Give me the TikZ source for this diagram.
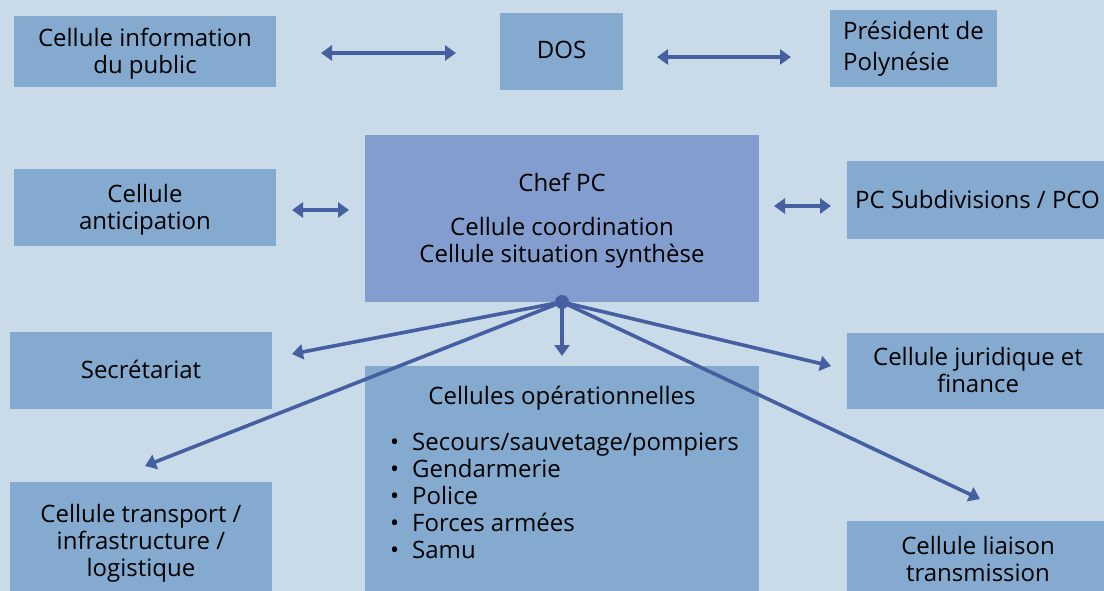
\documentclass[tikz,border=0pt]{standalone}
\usepackage{fontspec}
\setmainfont{Open Sans}
\usetikzlibrary{arrows.meta}
\definecolor{bgc}{HTML}{C9DBE9}
\definecolor{boxc}{HTML}{85AAD0}
\definecolor{chefc}{HTML}{839ECE}
\definecolor{arrc}{HTML}{465FA0}
\tikzset{
  box/.style={fill=boxc, draw=none, inner sep=0pt},
  lbl/.style={font=\fontsize{24}{27}\selectfont, text=black, align=center, inner sep=0pt},
  conn/.style={draw=arrc, line width=3.6pt, -{Triangle[length=11pt,width=15pt]}},
  dconn/.style={draw=arrc, line width=3.6pt, {Triangle[length=11pt,width=15pt]}-{Triangle[length=11pt,width=15pt]}},
}
\begin{document}
\begin{tikzpicture}[x=1pt,y=-1pt]
\fill[bgc] (0,0) rectangle (1104,591);
\useasboundingbox (0,0) rectangle (1104,591);
% boxes
\node[box, minimum width=262pt, minimum height=71pt] (info) at (145,51.5) {};
\node[box, minimum width=123pt, minimum height=77pt] (dos) at (561.5,51.5) {};
\node[box, minimum width=167pt, minimum height=77pt] (pres) at (913.5,48.5) {};
\node[box, fill=chefc, minimum width=394pt, minimum height=167pt] (chef) at (562,218.5) {};
\node[box, minimum width=262pt, minimum height=77pt] (antic) at (145,207.5) {};
\node[box, minimum width=263pt, minimum height=78pt] (pcsub) at (978.5,200) {};
\node[box, minimum width=262pt, minimum height=77pt] (secr) at (141,370.5) {};
\node[box, minimum width=394pt, minimum height=234pt] (ops) at (562,483) {};
\node[box, minimum width=263pt, minimum height=76pt] (jur) at (978.5,371) {};
\node[box, minimum width=262pt, minimum height=118pt] (trans) at (141,541) {};
\node[box, minimum width=263pt, minimum height=79pt] (liais) at (978.5,560.5) {};
% texts
\node[lbl] (tinfo) at (145,53.5) {Cellule information\\du public};
\node[lbl] (tdos) at (561.5,50) {DOS};
\node[lbl, align=left, anchor=west, font=\fontsize{24}{31}\selectfont] (tpres) at (843,49) {Président de\\Polynésie};
\node[lbl] (tchef1) at (562,182.5) {Chef PC};
\node[lbl] (tchef2) at (562,243) {Cellule coordination\\Cellule situation synthèse};
\node[lbl] (tantic) at (145,209.5) {Cellule\\anticipation};
\node[lbl, anchor=west] (tpcsub) at (855,199) {PC Subdivisions / PCO};
\node[lbl] (tsecr) at (141,369.5) {Secrétariat};
\node[lbl] (tops) at (562,398) {Cellules opérationnelles};
\node[lbl, align=left, anchor=north west] (tlist) at (390,433) {%
\textbullet\hspace{13pt}Secours/sauvetage/pompiers\\
\textbullet\hspace{13pt}Gendarmerie\\
\textbullet\hspace{13pt}Police\\
\textbullet\hspace{13pt}Forces armées\\
\textbullet\hspace{13pt}Samu};
\node[lbl] (tjur) at (978,370) {Cellule juridique et\\finance};
\node[lbl] (ttrans) at (141,543) {Cellule transport /\\infrastructure /\\logistique};
\node[lbl] (tliais) at (978,559) {Cellule liaison\\transmission};
% double arrows
\coordinate (a1) at (321,53); \coordinate (a2) at (456,53);
\coordinate (b1) at (657,57); \coordinate (b2) at (791,57);
\coordinate (c1) at (292,210); \coordinate (c2) at (349,210);
\coordinate (d1) at (774,206); \coordinate (d2) at (831,206);
\draw[dconn] (a1) -- (a2);
\draw[dconn] (b1) -- (b2);
\draw[dconn] (c1) -- (c2);
\draw[dconn] (d1) -- (d2);
% hub
\node[circle, fill=arrc, inner sep=0pt, minimum size=14pt] (hub) at (562,302) {};
\coordinate (esecr) at (292,354);
\coordinate (eops) at (562,356);
\coordinate (ejur) at (831,366);
\coordinate (etrans) at (145,466);
\coordinate (eliais) at (980,499);
\draw[conn] (hub.center) -- (esecr);
\draw[conn] (hub.center) -- (eops);
\draw[conn] (hub.center) -- (ejur);
\draw[conn] (hub.center) -- (etrans);
\draw[conn] (hub.center) -- (eliais);
\end{tikzpicture}
\end{document}
